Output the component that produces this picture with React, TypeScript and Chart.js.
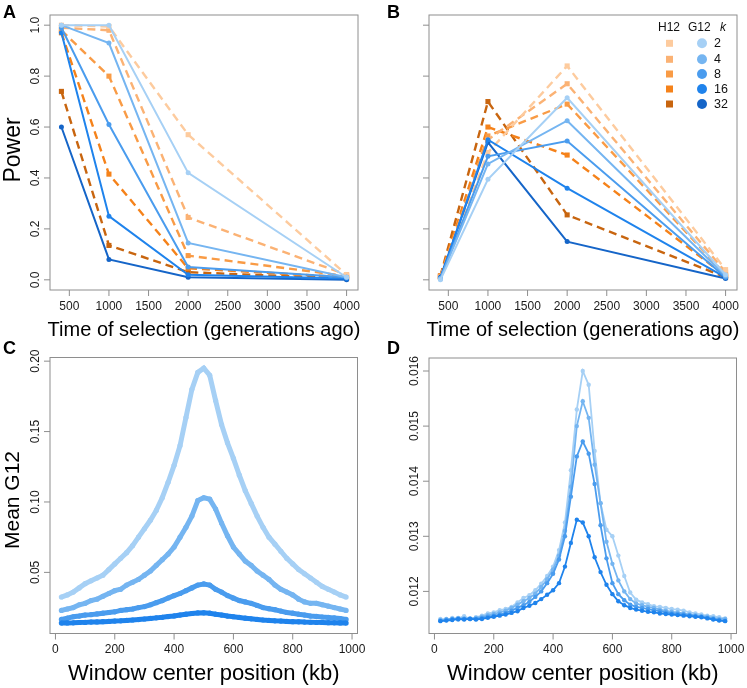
import React, { useEffect, useRef } from 'react';
import { Chart, registerables } from 'chart.js';
Chart.register(...registerables);

const FONT = '"Liberation Sans", Arial, Helvetica, sans-serif';

// ---------- categories / labels ----------
const kLabels = ['2', '4', '8', '16', '32'];
const timesGen = [400, 1000, 2000, 4000];
const timeTicks = [500, 1000, 1500, 2000, 2500, 3000, 3500, 4000];
const powerTicks = [0, 0.2, 0.4, 0.6, 0.8, 1.0];
const powerTickLabels = ['0.0', '0.2', '0.4', '0.6', '0.8', '1.0'];
const kbTicks = [0, 200, 400, 600, 800, 1000];
const g12TicksC = [0.05, 0.1, 0.15, 0.2];
const g12TickLabelsC = ['0.05', '0.10', '0.15', '0.20'];
const g12TicksD = [0.012, 0.013, 0.014, 0.015, 0.016];
const g12TickLabelsD = ['0.012', '0.013', '0.014', '0.015', '0.016'];

const h12Colors = ['#FDCB9E', '#FBB274', '#F99B45', '#F5821A', '#C8650F'];
const g12Colors = ['#A6D0F5', '#75B5F1', '#4A9CEE', '#1F83EC', '#1565C8'];

// ---------- panel A : power, hard sweeps ----------
const powerA_G12_k2 = [1.0, 1.0, 0.42, 0.01];
const powerA_G12_k4 = [1.0, 0.93, 0.145, 0.01];
const powerA_G12_k8 = [0.99, 0.61, 0.05, 0.01];
const powerA_G12_k16 = [0.97, 0.25, 0.02, 0.005];
const powerA_G12_k32 = [0.6, 0.08, 0.01, 0.0];
const powerA_H12_k2 = [1.0, 0.995, 0.57, 0.02];
const powerA_H12_k4 = [0.99, 0.98, 0.245, 0.02];
const powerA_H12_k8 = [0.98, 0.8, 0.095, 0.015];
const powerA_H12_k16 = [0.97, 0.415, 0.045, 0.01];
const powerA_H12_k32 = [0.74, 0.135, 0.03, 0.005];

// ---------- panel B : power, soft sweeps ----------
const powerB_G12_k2 = [0.0, 0.395, 0.715, 0.02];
const powerB_G12_k4 = [0.005, 0.455, 0.625, 0.015];
const powerB_G12_k8 = [0.005, 0.485, 0.545, 0.01];
const powerB_G12_k16 = [0.005, 0.55, 0.36, 0.01];
const powerB_G12_k32 = [0.01, 0.54, 0.15, 0.005];
const powerB_H12_k2 = [0.01, 0.5, 0.84, 0.04];
const powerB_H12_k4 = [0.01, 0.55, 0.77, 0.03];
const powerB_H12_k8 = [0.01, 0.565, 0.69, 0.02];
const powerB_H12_k16 = [0.015, 0.6, 0.49, 0.015];
const powerB_H12_k32 = [0.015, 0.7, 0.255, 0.01];

// ---------- panels C, D : window positions ----------
const windowKb = [20, 40, 60, 80, 100, 120, 140, 160, 180, 200, 220, 240, 260, 280, 300, 320, 340, 360, 380, 400,
  420, 440, 460, 480, 500, 520, 540, 560, 580, 600, 620, 640, 660, 680, 700, 720, 740, 760, 780, 800,
  820, 840, 860, 880, 900, 920, 940, 960, 980];

const meanC_k2 = [0.0325, 0.034, 0.036, 0.039, 0.042, 0.044, 0.046, 0.048, 0.052, 0.056, 0.06, 0.064, 0.069, 0.075, 0.081, 0.087, 0.094, 0.103, 0.114, 0.126,
  0.14, 0.16, 0.18, 0.192, 0.195, 0.19, 0.172, 0.155, 0.142, 0.131, 0.119, 0.108, 0.099, 0.09, 0.082, 0.075, 0.07, 0.065, 0.06, 0.056,
  0.052, 0.049, 0.046, 0.043, 0.04, 0.038, 0.036, 0.034, 0.0325];
const meanC_k4 = [0.023, 0.024, 0.025, 0.027, 0.028, 0.03, 0.031, 0.033, 0.035, 0.037, 0.038, 0.041, 0.043, 0.045, 0.048, 0.051, 0.055, 0.059, 0.063, 0.068,
  0.075, 0.082, 0.09, 0.101, 0.103, 0.102, 0.095, 0.085, 0.076, 0.068, 0.063, 0.058, 0.055, 0.051, 0.048, 0.045, 0.041, 0.038, 0.036, 0.034,
  0.031, 0.029, 0.028, 0.028, 0.027, 0.026, 0.025, 0.024, 0.023];
const meanC_k8 = [0.0166, 0.0175, 0.0185, 0.019, 0.0197, 0.02, 0.0205, 0.021, 0.0215, 0.022, 0.023, 0.0235, 0.024, 0.025, 0.0257, 0.027, 0.0285, 0.03, 0.0318, 0.0335,
  0.035, 0.037, 0.039, 0.041, 0.0418, 0.041, 0.038, 0.036, 0.0335, 0.0317, 0.03, 0.029, 0.028, 0.0265, 0.025, 0.0242, 0.0235, 0.0225, 0.0215, 0.021,
  0.0203, 0.0197, 0.019, 0.0187, 0.0183, 0.018, 0.0177, 0.0172, 0.0166];
const meanC_k16 = [0.014, 0.0141, 0.0142, 0.0144, 0.0145, 0.0147, 0.0148, 0.015, 0.0152, 0.0154, 0.0156, 0.0159, 0.0162, 0.0165, 0.0169, 0.0173, 0.0177, 0.0181, 0.0186, 0.0191,
  0.0197, 0.0203, 0.0208, 0.0212, 0.0213, 0.021, 0.0203, 0.0197, 0.019, 0.0185, 0.018, 0.0175, 0.017, 0.0166, 0.0162, 0.0159, 0.0156, 0.0154, 0.0152, 0.015,
  0.0149, 0.0147, 0.0146, 0.0145, 0.0144, 0.0143, 0.0142, 0.0141, 0.014];

const meanD_k2 = [0.0115, 0.01148, 0.01152, 0.01151, 0.01155, 0.0115, 0.01153, 0.01156, 0.0116, 0.01162, 0.01166, 0.01168, 0.01172, 0.0118, 0.01188, 0.01193, 0.01202, 0.01214, 0.01228, 0.01245,
  0.01275, 0.01325, 0.0142, 0.0153, 0.016, 0.01575, 0.01455, 0.0136, 0.01312, 0.013, 0.01265, 0.01228, 0.01198, 0.01185, 0.0118, 0.01177, 0.01173, 0.01172, 0.0117, 0.01168,
  0.01167, 0.01165, 0.01162, 0.0116, 0.01158, 0.01156, 0.01155, 0.01153, 0.01151];
const meanD_k4 = [0.01148, 0.0115, 0.01149, 0.01152, 0.01151, 0.0115, 0.01152, 0.01154, 0.01157, 0.01159, 0.01162, 0.01165, 0.0117, 0.01176, 0.01182, 0.01188, 0.01196, 0.01208, 0.01222, 0.0124,
  0.01265, 0.0131, 0.0139, 0.015, 0.01545, 0.01515, 0.0143, 0.0136, 0.0129, 0.0125, 0.0122, 0.012, 0.01186, 0.01178, 0.01175, 0.01172, 0.0117, 0.01167, 0.01165, 0.01163,
  0.01162, 0.0116, 0.01158, 0.01157, 0.01155, 0.01154, 0.01152, 0.0115, 0.0115];
const meanD_k8 = [0.01147, 0.01148, 0.0115, 0.01149, 0.0115, 0.01151, 0.0115, 0.01152, 0.01154, 0.01156, 0.01158, 0.01161, 0.01165, 0.0117, 0.01175, 0.01181, 0.0119, 0.012, 0.01215, 0.01232,
  0.01258, 0.013, 0.01372, 0.01445, 0.01472, 0.0145, 0.01395, 0.0132, 0.0126, 0.01215, 0.01195, 0.01184, 0.01176, 0.01172, 0.0117, 0.01168, 0.01166, 0.01164, 0.01162, 0.0116,
  0.01159, 0.01158, 0.01157, 0.01155, 0.01154, 0.01152, 0.0115, 0.01148, 0.01147];
const meanD_k16 = [0.01146, 0.01147, 0.01148, 0.0115, 0.01149, 0.0115, 0.01149, 0.0115, 0.01152, 0.01154, 0.01156, 0.01158, 0.01161, 0.01164, 0.0117, 0.01174, 0.01179, 0.01186, 0.01194, 0.01202,
  0.01215, 0.01245, 0.01288, 0.0133, 0.01325, 0.013, 0.01262, 0.01235, 0.01212, 0.01195, 0.01182, 0.01175, 0.0117, 0.01167, 0.01165, 0.01163, 0.01162, 0.0116, 0.01159, 0.01158,
  0.01157, 0.01156, 0.01155, 0.01154, 0.01153, 0.01151, 0.01149, 0.01147, 0.01146];

// ---------- helpers ----------
const toXY = (xs: number[], ys: number[]) => xs.map((x, i) => ({ x, y: ys[i] }));

function g12Set(ys: number[], i: number, xs: number[], width: number, radius: number) {
  return {
    data: toXY(xs, ys), borderColor: g12Colors[i], backgroundColor: g12Colors[i],
    pointBackgroundColor: g12Colors[i], pointBorderWidth: 0, pointRadius: radius,
    borderWidth: width, pointStyle: 'circle', tension: 0, fill: false,
  };
}
function h12Set(ys: number[], i: number) {
  return {
    data: toXY(timesGen, ys), borderColor: h12Colors[i], backgroundColor: h12Colors[i],
    pointBackgroundColor: h12Colors[i], pointBorderWidth: 0, pointRadius: 3.6,
    borderWidth: 2.4, borderDash: [8, 5], pointStyle: 'rect', tension: 0, fill: false,
  };
}

type Spec = {
  letter: string; letterX: number; letterY: number;
  xTicks: number[]; xTickLabels: string[];
  yTicks: number[]; yTickLabels: string[] | null;
  xTitle: string; xTitleSize: number;
  yTitle: string | null; yTitleSize: number; yTitleX: number; yTitleY: number;
  legend: boolean;
};

function makeDeco(spec: Spec) {
  return {
    id: 'deco',
    afterDraw(chart: any) {
      const { ctx, chartArea: a, scales } = chart;
      const xs = scales.x, ys = scales.y;
      ctx.save();
      ctx.strokeStyle = '#8e8e8e';
      ctx.lineWidth = 1;
      ctx.strokeRect(a.left, a.top, a.right - a.left, a.bottom - a.top);
      // x ticks
      ctx.fillStyle = '#1a1a1a';
      ctx.font = `12px ${FONT}`;
      ctx.textAlign = 'center';
      ctx.textBaseline = 'middle';
      spec.xTicks.forEach((v, i) => {
        const px = xs.getPixelForValue(v);
        ctx.beginPath(); ctx.moveTo(px, a.bottom); ctx.lineTo(px, a.bottom + 6); ctx.stroke();
        ctx.fillText(spec.xTickLabels[i], px, a.bottom + 16.5);
      });
      // y ticks
      spec.yTicks.forEach((v, i) => {
        const py = ys.getPixelForValue(v);
        ctx.beginPath(); ctx.moveTo(a.left - 6, py); ctx.lineTo(a.left, py); ctx.stroke();
        if (spec.yTickLabels) {
          ctx.save();
          ctx.translate(a.left - 11, py);
          ctx.rotate(-Math.PI / 2);
          ctx.textBaseline = 'alphabetic';
          ctx.fillText(spec.yTickLabels[i], 0, 0);
          ctx.restore();
        }
      });
      // x title
      ctx.font = `${spec.xTitleSize}px ${FONT}`;
      ctx.fillStyle = '#000';
      ctx.fillText(spec.xTitle, (a.left + a.right) / 2, a.bottom + 40.5);
      // y title
      if (spec.yTitle) {
        ctx.save();
        ctx.translate(spec.yTitleX, spec.yTitleY);
        ctx.rotate(-Math.PI / 2);
        ctx.font = `${spec.yTitleSize}px ${FONT}`;
        ctx.textBaseline = 'alphabetic';
        ctx.fillText(spec.yTitle, 0, 0);
        ctx.restore();
      }
      // panel letter
      ctx.font = `bold 18px ${FONT}`;
      ctx.textAlign = 'left';
      ctx.textBaseline = 'alphabetic';
      ctx.fillText(spec.letter, spec.letterX, spec.letterY);
      // legend
      if (spec.legend) {
        ctx.font = `12px ${FONT}`;
        ctx.fillStyle = '#111';
        ctx.fillText('H12', 285, 30.5);
        ctx.fillText('G12', 315, 30.5);
        ctx.font = `italic 12px ${FONT}`;
        ctx.fillText('k', 347, 30.5);
        ctx.font = `12.5px ${FONT}`;
        const rows = [43.3, 59.3, 74, 89, 104];
        rows.forEach((ry, i) => {
          ctx.fillStyle = h12Colors[i];
          ctx.fillRect(296.5 - 3.5, ry - 3.5, 7, 7);
          ctx.fillStyle = g12Colors[i];
          ctx.beginPath(); ctx.arc(329, ry, 5, 0, Math.PI * 2); ctx.fill();
          ctx.fillStyle = '#111';
          ctx.textBaseline = 'middle';
          ctx.fillText(kLabels[i], 341, ry + 0.5);
        });
      }
      ctx.restore();
    },
  };
}

type PanelProps = {
  left: number; top: number; w: number; h: number;
  pad: { left: number; top: number; right: number; bottom: number };
  xMin: number; xMax: number; yMin: number; yMax: number;
  datasets: any[]; spec: Spec;
};

function Panel(p: PanelProps) {
  const ref = useRef<HTMLCanvasElement>(null);
  useEffect(() => {
    if (!ref.current) return;
    const chart = new Chart(ref.current, {
      type: 'line',
      data: { datasets: p.datasets },
      options: {
        responsive: false,
        animation: false,
        layout: { padding: p.pad },
        plugins: { legend: { display: false }, tooltip: { enabled: false } },
        scales: {
          x: { type: 'linear', min: p.xMin, max: p.xMax, display: false },
          y: { type: 'linear', min: p.yMin, max: p.yMax, display: false },
        },
      },
      plugins: [makeDeco(p.spec)],
    } as any);
    return () => chart.destroy();
  }, []);
  return (
    <canvas ref={ref} width={p.w} height={p.h}
      style={{ position: 'absolute', left: p.left, top: p.top, width: p.w, height: p.h }} />
  );
}

const timeLabels = timeTicks.map(String);
const kbLabels = kbTicks.map(String);

export default function App() {
  const dsA = [
    g12Set(powerA_G12_k2, 0, timesGen, 2, 2.5), g12Set(powerA_G12_k4, 1, timesGen, 2, 2.5),
    g12Set(powerA_G12_k8, 2, timesGen, 2, 2.5), g12Set(powerA_G12_k16, 3, timesGen, 2, 2.5),
    g12Set(powerA_G12_k32, 4, timesGen, 2, 2.5),
    h12Set(powerA_H12_k2, 0), h12Set(powerA_H12_k4, 1), h12Set(powerA_H12_k8, 2),
    h12Set(powerA_H12_k16, 3), h12Set(powerA_H12_k32, 4),
  ];
  const dsB = [
    g12Set(powerB_G12_k2, 0, timesGen, 2, 2.5), g12Set(powerB_G12_k4, 1, timesGen, 2, 2.5),
    g12Set(powerB_G12_k8, 2, timesGen, 2, 2.5), g12Set(powerB_G12_k16, 3, timesGen, 2, 2.5),
    g12Set(powerB_G12_k32, 4, timesGen, 2, 2.5),
    h12Set(powerB_H12_k2, 0), h12Set(powerB_H12_k4, 1), h12Set(powerB_H12_k8, 2),
    h12Set(powerB_H12_k16, 3), h12Set(powerB_H12_k32, 4),
  ];
  const dsC = [
    g12Set(meanC_k16, 3, windowKb, 5, 2.6), g12Set(meanC_k8, 2, windowKb, 5, 2.6),
    g12Set(meanC_k4, 1, windowKb, 5, 2.6), g12Set(meanC_k2, 0, windowKb, 5, 2.6),
  ];
  const dsD = [
    g12Set(meanD_k16, 3, windowKb, 1.8, 2.2), g12Set(meanD_k8, 2, windowKb, 1.8, 2.2),
    g12Set(meanD_k4, 1, windowKb, 1.8, 2.2), g12Set(meanD_k2, 0, windowKb, 1.8, 2.2),
  ];

  const specA: Spec = {
    letter: 'A', letterX: 3, letterY: 18, xTicks: timeTicks, xTickLabels: timeLabels,
    yTicks: powerTicks, yTickLabels: powerTickLabels,
    xTitle: 'Time of selection (generations ago)', xTitleSize: 20,
    yTitle: 'Power', yTitleSize: 23, yTitleX: 20, yTitleY: 150, legend: false,
  };
  const specB: Spec = {
    letter: 'B', letterX: 14, letterY: 18, xTicks: timeTicks, xTickLabels: timeLabels,
    yTicks: powerTicks, yTickLabels: null,
    xTitle: 'Time of selection (generations ago)', xTitleSize: 20,
    yTitle: null, yTitleSize: 20, yTitleX: 0, yTitleY: 0, legend: true,
  };
  // bottom canvases start at y = 334 (overlapping transparently)
  const specC: Spec = {
    letter: 'C', letterX: 3, letterY: 20, xTicks: kbTicks, xTickLabels: kbLabels,
    yTicks: g12TicksC, yTickLabels: g12TickLabelsC,
    xTitle: 'Window center position (kb)', xTitleSize: 22,
    yTitle: 'Mean G12', yTitleSize: 21, yTitleX: 18.5, yTitleY: 166, legend: false,
  };
  const specD: Spec = {
    letter: 'D', letterX: 14, letterY: 20, xTicks: kbTicks, xTickLabels: kbLabels,
    yTicks: g12TicksD, yTickLabels: g12TickLabelsD,
    xTitle: 'Window center position (kb)', xTitleSize: 22,
    yTitle: null, yTitleSize: 20, yTitleX: 0, yTitleY: 0, legend: false,
  };

  return (
    <div style={{ position: 'absolute', left: 0, top: 0, width: 747, height: 688, background: '#fff' }}>
      <Panel left={0} top={0} w={373} h={344} pad={{ left: 50, top: 15, right: 15, bottom: 54 }}
        xMin={256} xMax={4144} yMin={-0.04} yMax={1.04} datasets={dsA} spec={specA} />
      <Panel left={373} top={0} w={374} h={344} pad={{ left: 56, top: 15, right: 10, bottom: 54 }}
        xMin={256} xMax={4144} yMin={-0.04} yMax={1.04} datasets={dsB} spec={specB} />
      <Panel left={0} top={334} w={373} h={354} pad={{ left: 50, top: 23.5, right: 15.5, bottom: 54.5 }}
        xMin={-18.4} xMax={1018.4} yMin={0.0066} yMax={0.2026} datasets={dsC} spec={specC} />
      <Panel left={373} top={334} w={374} h={354} pad={{ left: 56, top: 24, right: 10.5, bottom: 54.5 }}
        xMin={-18.4} xMax={1018.4} yMin={0.011236} yMax={0.016236} datasets={dsD} spec={specD} />
    </div>
  );
}
